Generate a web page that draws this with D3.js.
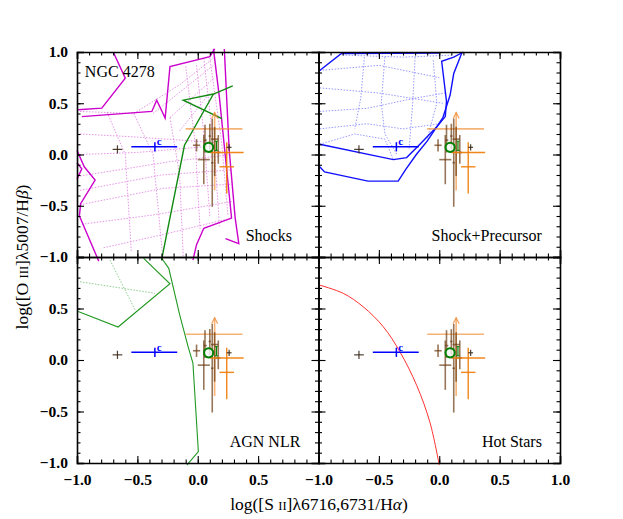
<!DOCTYPE html>
<html>
<head>
<meta charset="utf-8">
<script src="https://cdn.jsdelivr.net/npm/d3@7"></script>
<style>
  body { margin: 0; background: #fff; }
  text { font-family: "Liberation Serif", "DejaVu Serif", serif; }
</style>
</head>
<body>
<div id="chart"></div>
<script>
// ---- data ----
var panelNames = ["Shocks", "Shock+Precursor", "AGN NLR", "Hot Stars"];
var majorTicks = [-1, -0.5, 0, 0.5, 1];
var minorTicks = d3.range(-10, 11).map(d => d / 10);
var xTicksLeft = [-1, -0.5, 0, 0.5];
var xTicksRight = [-1, -0.5, 0, 0.5, 1];
var yTicksTop = [1, 0.5, 0, -0.5, -1];
var yTicksBottom = [0.5, 0, -0.5, -1];

// shock models (solid boundaries and dotted grid), [x, y]
var shockEdges = [
  [[-0.70, 1.0], [-0.60, 0.744], [-0.795, 0.452], [-0.99, 0.436]],
  [[-0.96, 0.37], [-0.38, 0.42], [-0.34, 0.53], [-0.27, 0.355], [-0.23, 0.857], [0.10, 0.954], [0.14, 1.03]],
  [[0.13, 1.03], [0.18, 0.55], [0.28, -0.62], [0.05, -0.72], [-0.01, -0.88], [-0.04, -1.03]],
  [[0.22, 1.03], [0.26, 0.05], [0.31, -0.62], [0.34, -0.87], [0.23, -0.82]],
  [[-1.00, 0.04], [-0.94, -0.12], [-0.85, -0.25], [-0.97, -0.48], [-0.98, -0.60], [-0.82, -1.04]],
  [[-1.00, -0.08], [-0.96, -0.14], [-1.00, -0.24]]
];
var shockGrid = [
  [[-0.975, 0.0], [-0.5, 0.02], [0.10, 0.08]],
  [[-0.975, 0.2], [-0.5, 0.17], [0.10, 0.12]],
  [[-0.975, -0.21], [-0.23, -0.07], [0.28, 0.0]],
  [[-0.975, -0.35], [-0.3, -0.2], [0.28, -0.15]],
  [[-0.975, -0.49], [-0.285, -0.33], [0.28, -0.29]],
  [[-0.96, -0.68], [-0.37, -0.59], [0.28, -0.46]],
  [[-0.78, -0.91], [-0.285, -0.78], [0.28, -0.62]],
  [[-0.975, 0.42], [-0.53, 0.40], [-0.15, 0.68], [0.13, 0.94]],
  [[-0.37, 0.40], [0.13, 0.87]],
  [[-0.23, 0.36], [0.13, 0.74]],
  [[-0.15, 0.23], [0.10, 0.60]],
  [[-0.53, 0.40], [-0.37, 0.0], [-0.29, -1.0]],
  [[-0.23, 0.36], [-0.15, -0.2], [-0.12, -1.0]],
  [[-0.01, 0.87], [0.05, 0.2], [0.10, -0.6]],
  [[0.10, 0.94], [0.20, 0.1], [0.25, -0.6]],
  [[0.05, 0.94], [0.14, 0.0], [0.18, -0.7]],
  [[-0.10, 0.86], [-0.02, 0.1], [0.02, -0.75]],
  [[-0.75, 0.41], [-0.6, 0.0], [-0.55, -0.95]]
];

var precursorEdges = [
  [[0.19, 1.0], [0.12, 0.79], [0.09, 0.58], [0.03, 0.36], [-0.10, 0.13], [-0.19, 0.0],
   [-0.28, -0.15], [-0.34, -0.26], [-0.59, -0.26], [-0.95, -0.17], [-0.99, -0.12]],
  [[-0.99, 0.10], [-0.38, -0.05], [-0.27, -0.03], [-0.16, 0.10], [-0.02, 0.27],
   [0.05, 0.37], [0.06, 0.52], [0.02, 0.91], [0.12, 0.95], [0.20, 1.0]],
  [[-0.99, 0.82], [-0.81, 0.985], [0.0, 0.99]]
];
var precursorGrid = [
  [[-0.99, 0.65], [-0.5, 0.60], [0.03, 0.50]],
  [[-0.99, 0.42], [-0.6, 0.45], [-0.2, 0.55], [0.05, 0.60]],
  [[-0.99, 0.25], [-0.6, 0.30], [-0.3, 0.25], [0.0, 0.30]],
  [[-0.8, 0.97], [-0.3, 0.95], [0.12, 0.97]],
  [[-0.99, 0.82], [-0.5, 0.87], [0.0, 0.75]],
  [[-0.45, 0.95], [-0.48, 0.5], [-0.45, 0.2], [-0.35, 0.0]],
  [[-0.20, 0.95], [-0.22, 0.5], [-0.25, 0.05]],
  [[-0.05, 0.92], [-0.02, 0.5], [-0.10, 0.15]],
  [[-0.62, 0.95], [-0.65, 0.55], [-0.70, 0.25]],
  [[-0.99, 0.10], [-0.70, 0.20], [-0.45, 0.15], [-0.38, -0.05]]
];

// AGN models: top panel piece and bottom panel piece
var agnTop = [
  [[-0.30, -1.03], [-0.11, 0.09], [0.13, 0.59]],
  [[0.29, 0.67], [0.13, 0.59], [-0.12, 0.53], [0.20, 0.35]]
];
var agnBottom = [
  [[-0.45, 0.99], [-0.23, 0.74], [-0.66, 0.32], [-0.99, 0.47]],
  [[-0.30, 0.99], [-0.24, 0.89], [-0.15, 0.44], [-0.08, 0.13], [-0.04, -0.03], [0.005, -0.89], [-0.09, -1.02]]
];
var agnGrid = [
  [[-0.975, 0.76], [-0.354, 0.647]],
  [[-0.727, 0.97], [-0.52, 0.49]]
];

// hot stars curve
var hotStars = [[-0.993, 0.728], [-0.795, 0.647], [-0.629, 0.516], [-0.463, 0.322],
  [-0.325, 0.078], [-0.187, -0.246], [-0.077, -0.606], [0.0, -1.02]];

// observations: [x, y, xlo, xhi, ylo, yhi]
var brownBars = [
  [-0.01, 0.09, -0.04, 0.02, 0.03, 0.15],
  [0.06, 0.14, 0.05, 0.075, 0.02, 0.29],
  [0.05, -0.05, 0.0, 0.10, -0.29, 0.19],
  [0.12, -0.08, 0.11, 0.13, -0.51, 0.35],
  [0.14, 0.15, 0.11, 0.17, -0.21, 0.27],
  [0.17, 0.02, 0.15, 0.19, -0.09, 0.19],
  [0.10, 0.18, 0.09, 0.11, 0.05, 0.30]
];
var blackBars = [
  [-0.665, 0.05, -0.705, -0.625, 0.01, 0.09],
  [0.26, 0.07, 0.24, 0.28, 0.04, 0.10]
];
var orangeBars = [
  [0.24, 0.02, 0.10, 0.38, 0.02, 0.02],
  [0.24, -0.12, 0.18, 0.30, -0.38, 0.12]
];
var peachBar = [0.14, 0.25, -0.10, 0.37, -0.35, 0.41];
var blueBar = [-0.355, 0.075, -0.55, -0.17, 0.03, 0.12];
var greenPoint = [0.09, 0.07];
var greenBar = [0.155, 0.085, 0.04, 0.13];

// ---- layout ----
var svgWidth = 623;
var svgHeight = 519;
var colX = [[77, 318.5], [318.5, 560]];
var rowY = [[52, 257], [257, 463]];

var svg = d3.select("#chart")
  .append("svg")
  .attr("width", svgWidth)
  .attr("height", svgHeight);

var fmt = d3.format(".1f");

var panels = panelNames.map(function(name, i) {
  var col = i % 2, row = Math.floor(i / 2);
  return {
    name: name, col: col, row: row,
    x: d3.scaleLinear().domain([-1, 1]).range(colX[col]),
    y: d3.scaleLinear().domain([-1, 1]).range([rowY[row][1], rowY[row][0]])
  };
});

panels.forEach(function(p, i) {
  var g = svg.append("g");
  var line = d3.line().x(d => p.x(d[0])).y(d => p.y(d[1]));

  // models
  if (i === 0) {
    g.selectAll("path.grid").data(shockGrid).enter().append("path")
      .attr("d", line).attr("fill", "none").attr("stroke", "#e07be0")
      .attr("stroke-width", 0.8).attr("stroke-dasharray", "1.5,1.5");
    g.selectAll("path.edge").data(shockEdges).enter().append("path")
      .attr("d", line).attr("fill", "none").attr("stroke", "#cc00cc")
      .attr("stroke-width", 1.4);
    g.selectAll("path.agn").data(agnTop).enter().append("path")
      .attr("d", line).attr("fill", "none").attr("stroke", "#128a12")
      .attr("stroke-width", 1.4);
  }
  if (i === 1) {
    g.selectAll("path.grid").data(precursorGrid).enter().append("path")
      .attr("d", line).attr("fill", "none").attr("stroke", "#8080ff")
      .attr("stroke-width", 0.8).attr("stroke-dasharray", "1.5,1.5");
    g.selectAll("path.edge").data(precursorEdges).enter().append("path")
      .attr("d", line).attr("fill", "none").attr("stroke", "#1010ff")
      .attr("stroke-width", 1.4);
  }
  if (i === 2) {
    g.selectAll("path.grid").data(agnGrid).enter().append("path")
      .attr("d", line).attr("fill", "none").attr("stroke", "#70c070")
      .attr("stroke-width", 0.8).attr("stroke-dasharray", "1.5,1.5");
    g.selectAll("path.edge").data(agnBottom).enter().append("path")
      .attr("d", line).attr("fill", "none").attr("stroke", "#229922")
      .attr("stroke-width", 1.1);
  }
  if (i === 3) {
    g.append("path")
      .attr("d", line.curve(d3.curveCatmullRom)(hotStars))
      .attr("fill", "none").attr("stroke", "#ff3030").attr("stroke-width", 1);
  }

  // observations
  function bars(list, color, opacity, width) {
    list.forEach(function(b) {
      g.append("line")
        .attr("x1", p.x(b[2])).attr("x2", p.x(b[3]))
        .attr("y1", p.y(b[1])).attr("y2", p.y(b[1]))
        .attr("stroke", color).attr("stroke-opacity", opacity).attr("stroke-width", width);
      g.append("line")
        .attr("x1", p.x(b[0])).attr("x2", p.x(b[0]))
        .attr("y1", p.y(b[4])).attr("y2", p.y(b[5]))
        .attr("stroke", color).attr("stroke-opacity", opacity).attr("stroke-width", width);
    });
  }
  bars([peachBar], "#f08a30", 0.65, 1.6);
  var tip = p.y(peachBar[5]);
  g.append("path")
    .attr("d", `M${p.x(peachBar[0]) - 3},${tip + 6}L${p.x(peachBar[0])},${tip}L${p.x(peachBar[0]) + 3},${tip + 6}`)
    .attr("fill", "none").attr("stroke", "#f08a30").attr("stroke-opacity", 0.8).attr("stroke-width", 1.2);
  bars(brownBars, "#6b3c12", 0.7, 1.6);
  bars(orangeBars, "#f07a00", 0.9, 1.4);
  bars(blackBars, "#3a2a1a", 0.9, 1.2);
  bars([blueBar], "#0000ff", 1, 1.5);
  g.append("text")
    .attr("x", p.x(blueBar[0] + 0.015)).attr("y", p.y(blueBar[5] - 0.03))
    .attr("fill", "#0000ff").style("font-size", "11px").style("font-weight", "bold").text("c");

  g.append("line")
    .attr("x1", p.x(greenBar[0])).attr("x2", p.x(greenBar[0]))
    .attr("y1", p.y(greenBar[2])).attr("y2", p.y(greenBar[3]))
    .attr("stroke", "#008000").attr("stroke-width", 1.2);
  [greenBar[2], greenBar[3]].forEach(function(v) {
    g.append("line")
      .attr("x1", p.x(greenBar[0]) - 1.5).attr("x2", p.x(greenBar[0]) + 1.5)
      .attr("y1", p.y(v)).attr("y2", p.y(v))
      .attr("stroke", "#008000").attr("stroke-width", 1);
  });
  g.append("circle")
    .attr("cx", p.x(greenPoint[0])).attr("cy", p.y(greenPoint[1]))
    .attr("r", 4.6).attr("fill", "#f4f8f4").attr("fill-opacity", 0.8)
    .attr("stroke", "#008000").attr("stroke-width", 2);

  // axes, ticks pointing inward on all four sides
  var x0 = colX[p.col][0], x1 = colX[p.col][1];
  var yTop = rowY[p.row][0], yBot = rowY[p.row][1];
  var xLab = p.row === 1 ? (p.col === 0 ? xTicksLeft : xTicksRight) : [];
  var yLab = p.col === 0 ? (p.row === 0 ? yTicksTop : yTicksBottom) : [];

  var axes = [
    [d3.axisBottom(p.x), `translate(0,${yBot})`, xLab, 11],
    [d3.axisTop(p.x), `translate(0,${yTop})`, [], 9],
    [d3.axisLeft(p.y), `translate(${x0},0)`, yLab, 9],
    [d3.axisRight(p.y), `translate(${x1},0)`, [], 9]
  ];
  axes.forEach(function(a) {
    var labels = a[2];
    g.append("g").attr("transform", a[1])
      .call(a[0].tickValues(minorTicks).tickSize(-3.5).tickFormat(""))
      .call(s => s.select(".domain").remove());
    var ax = g.append("g").attr("class", "major").attr("transform", a[1])
      .call(a[0].tickValues(majorTicks).tickSize(-7).tickPadding(a[3])
        .tickFormat(d => labels.indexOf(d) >= 0 ? fmt(d) : ""));
    ax.select(".domain").attr("stroke-width", 1.6);
  });

  // panel label
  g.append("text")
    .attr("x", p.name === "Shocks" ? p.x(0.78) : p.x(0.85))
    .attr("y", p.y(-0.84))
    .attr("text-anchor", "end")
    .style("font-size", "16px")
    .text(p.name);
});

svg.selectAll(".tick line").attr("stroke-width", 1.1);
svg.selectAll(".major .tick text")
  .style("font-size", "15.5px").style("font-weight", "bold")
  .style("font-family", "'Liberation Serif', serif");

svg.append("text")
  .attr("x", panels[0].x(-0.935)).attr("y", panels[0].y(0.755))
  .style("font-size", "16px")
  .text("NGC 4278");

// axis titles
var xTitle = svg.append("text")
  .attr("x", 319).attr("y", 510)
  .attr("text-anchor", "middle")
  .style("font-size", "17.5px");
xTitle.append("tspan").text("log([S ");
xTitle.append("tspan").style("font-size", "12.5px").text("II");
xTitle.append("tspan").text("]λ6716,6731/H");
xTitle.append("tspan").style("font-style", "italic").text("α");
xTitle.append("tspan").text(")");

var yTitle = svg.append("text")
  .attr("transform", "translate(28,257) rotate(-90)")
  .attr("text-anchor", "middle")
  .style("font-size", "17.5px");
yTitle.append("tspan").text("log([O ");
yTitle.append("tspan").style("font-size", "12.5px").text("III");
yTitle.append("tspan").text("]λ5007/H");
yTitle.append("tspan").style("font-style", "italic").text("β");
yTitle.append("tspan").text(")");
</script>
</body>
</html>
